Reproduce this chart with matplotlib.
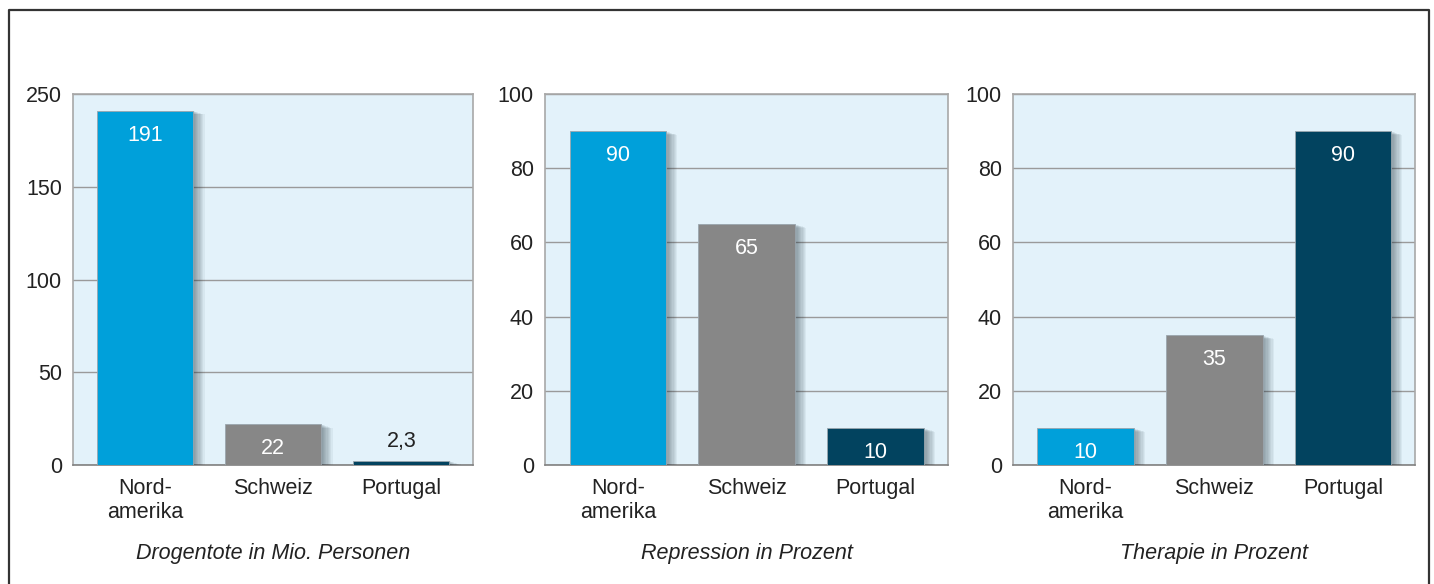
import matplotlib.pyplot as plt
import matplotlib.patheffects as pe
from matplotlib.lines import Line2D

plt.rcParams['font.family'] = ['Liberation Sans', 'DejaVu Sans']

# Daten
laender = ["Nord-\namerika", "Schweiz", "Portugal"]
farben = ["#00a0da", "#878787", "#02435f"]

titel = ["Drogentote in Mio. Personen", "Repression in Prozent", "Therapie in Prozent"]

drogentote = [191, 22, 2.3]
drogentote_text = ["191", "22", "2,3"]
repression = [90, 65, 10]
repression_text = ["90", "65", "10"]
therapie = [10, 35, 90]
therapie_text = ["10", "35", "90"]

hoehen = [drogentote, repression, therapie]
texte = [drogentote_text, repression_text, therapie_text]
ymax = [200, 100, 100]
yticks = [[0, 50, 100, 150, 200], [0, 20, 40, 60, 80, 100], [0, 20, 40, 60, 80, 100]]
# im Original steht oben "250" statt 200
ytick_text = [["0", "50", "100", "150", "250"], None, None]

W, H = 1434, 584
fig = plt.figure(figsize=(W / 100, H / 100), dpi=100)

# Position der Achsen in Pixeln (links, rechts)
achsen_px = [(73, 473), (545, 948), (1013, 1415)]
oben, unten = 94, 465
fs = 15.5


def schatten():
    eff = []
    for i in range(1, 10):
        eff.append(pe.SimplePatchShadow(offset=(i * 0.9, -i * 0.3), shadow_rgbFace="#1a2a35", alpha=0.055))
    eff.append(pe.Normal())
    return eff


for k in range(3):
    l, r = achsen_px[k]
    ax = fig.add_axes([l / W, 1 - unten / H, (r - l) / W, (unten - oben) / H])
    ax.set_facecolor("#e3f2fa")
    x = range(len(laender))
    bars = ax.bar(x, hoehen[k], width=0.75, color=farben, edgecolor="#9aa6ae", linewidth=0.6, zorder=3)
    for b in bars:
        b.set_path_effects(schatten())

    ax.set_xlim(-0.565, 2.56)
    ax.set_ylim(0, ymax[k])
    ax.set_yticks(yticks[k])
    if ytick_text[k] is not None:
        ax.set_yticklabels(ytick_text[k])
    ax.set_xticks(list(x))
    ax.set_xticklabels(laender, linespacing=1.15)
    ax.tick_params(axis="both", length=0, labelsize=fs, colors="#222222")
    ax.tick_params(axis="y", pad=8)
    ax.tick_params(axis="x", pad=9.5)
    ax.grid(axis="y", color="#9a9a9a", linewidth=1.0, zorder=1)
    ax.set_axisbelow(True)
    for s in ax.spines.values():
        s.set_color("#a8a8a8")
        s.set_linewidth(1.2)
    ax.spines["bottom"].set_color("#808080")

    for i, (h, t) in enumerate(zip(hoehen[k], texte[k])):
        if h > 8 * ymax[k] / 100:
            ax.annotate(t, (i, h), xytext=(0, -17.5), textcoords="offset points",
                        ha="center", va="center", color="white", fontsize=fs, zorder=5)
        else:
            ax.annotate(t, (i, h), xytext=(0, 14), textcoords="offset points",
                        ha="center", va="center", color="#222222", fontsize=fs, zorder=5)

    fig.text((l + r) / 2 / W, 1 - 553 / H, titel[k], ha="center", va="center",
             style="italic", fontsize=fs, color="#222222")

# Rahmen
rahmen = Line2D([9 / W, 9 / W, 1429 / W, 1429 / W], [0, 1 - 10 / H, 1 - 10 / H, 0],
                transform=fig.transFigure, color="#333333", linewidth=1.6)
fig.add_artist(rahmen)

fig.savefig("out.png", dpi=100)
